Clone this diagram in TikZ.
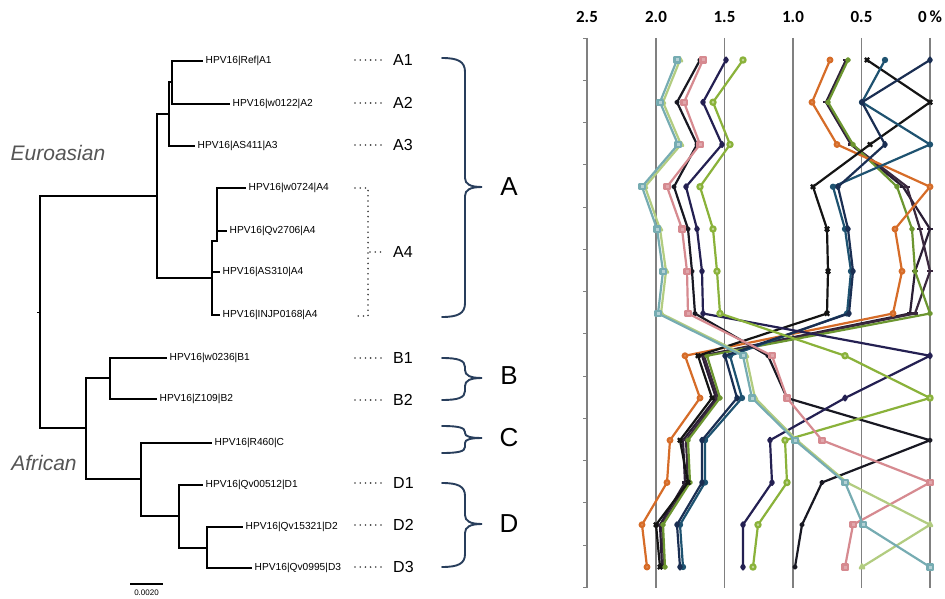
\documentclass[tikz,border=0pt]{standalone}
\usepackage{fontspec}
\setmainfont{Liberation Sans}
\newfontfamily\chartfont{Carlito}
\usetikzlibrary{plotmarks}

% colours of the tree braces and the distance series
\definecolor{bracecol}{RGB}{40,62,92}
\definecolor{gridcol}{RGB}{128,128,128}
\definecolor{cladegray}{RGB}{85,85,85}
\definecolor{cD3}{RGB}{118,172,178}
\definecolor{cD2}{RGB}{178,204,128}
\definecolor{cD1}{RGB}{214,138,144}
\definecolor{cB1}{RGB}{36,32,82}
\definecolor{cB2}{RGB}{138,178,58}
\definecolor{cC}{RGB}{24,24,34}
\definecolor{cA1}{RGB}{26,46,82}
\definecolor{cA2}{RGB}{20,20,20}
\definecolor{cA3}{RGB}{30,82,112}
\definecolor{cA4a}{RGB}{214,108,40}
\definecolor{cA4b}{RGB}{42,30,52}
\definecolor{cA4c}{RGB}{58,40,62}
\definecolor{cA4d}{RGB}{108,150,48}

% right brace: top y, tip y, bottom y, end radius, tip radius
\newcommand\clbrace[5]{%
  \draw[brace] (442,#1) .. controls (458,#1) and (465,#1+#4/4) .. (465,#1+#4)
    -- (465,#2-#5) .. controls (465,#2-#5/3) and (470,#2) .. (482,#2)
    .. controls (470,#2) and (465,#2+#5/3) .. (465,#2+#5)
    -- (465,#3-#4) .. controls (465,#3-#4/4) and (458,#3) .. (442,#3);}

\begin{document}
\begin{tikzpicture}[x=1pt,y=-1pt,
  tree/.style={line width=1.5pt,line join=miter,black},
  tip/.style={anchor=west,inner sep=2.5pt,font=\fontsize{10.2}{12}\selectfont},
  clade/.style={font=\fontsize{21}{24}\selectfont\itshape,text=cladegray},
  leader/.style={line width=1.8pt,dash pattern=on 0pt off 5.2pt,line cap=round,color=black!75},
  grp/.style={anchor=west,inner sep=0pt,font=\fontsize{16}{18}\selectfont},
  big/.style={inner sep=0pt,font=\fontsize{26}{29}\selectfont},
  brace/.style={line width=1.9pt,color=bracecol,line cap=round},
  grid/.style={line width=1.1pt,color=gridcol},
  axlab/.style={font=\chartfont\bfseries\fontsize{17}{19}\selectfont},
  ser/.style={line width=2.2pt,line join=round,mark size=2.3pt},
]
\useasboundingbox[fill=white] (0,0) rectangle (945,599);

% ---------------- phylogenetic tree ----------------
\coordinate (R) at (40,312);
\coordinate (EA) at (157,196);
\coordinate (AF) at (86,428);
\coordinate (Atop) at (169,114);
\coordinate (A12) at (172,82);
\coordinate (A4n) at (212,278);
\coordinate (A4j) at (212,241);
\coordinate (A4s) at (217,241);
\coordinate (Bn) at (110,378);
\coordinate (CDn) at (141,479);
\coordinate (Dn) at (179,516);
\coordinate (D23) at (207,548);

\node[tip] (lA1) at (203,61) {HPV16|Ref|A1};
\node[tip] (lA2) at (230,104) {HPV16|w0122|A2};
\node[tip] (lA3) at (195,146) {HPV16|AS411|A3};
\node[tip] (lA4a) at (246,188) {HPV16|w0724|A4};
\node[tip] (lA4b) at (227,231) {HPV16|Qv2706|A4};
\node[tip] (lA4c) at (220,272) {HPV16|AS310|A4};
\node[tip] (lA4d) at (220,315) {HPV16|INJP0168|A4};
\node[tip] (lB1) at (167,358) {HPV16|w0236|B1};
\node[tip] (lB2) at (157,399) {HPV16|Z109|B2};
\node[tip] (lC) at (212,443) {HPV16|R460|C};
\node[tip] (lD1) at (203,485) {HPV16|Qv00512|D1};
\node[tip] (lD2) at (243,527) {HPV16|Qv15321|D2};
\node[tip] (lD3) at (252,568) {HPV16|Qv0995|D3};

\draw[tree] (R) |- (EA);
\draw[tree] (R) |- (AF);
\draw[line width=1pt] (R) -- ++(-3,0);
\draw[tree] (EA) |- (Atop);
\draw[tree] (EA) |- (A4n);
\draw[tree] (Atop) |- (A12);
\draw[tree] (Atop) |- (lA3.west);
\draw[tree] (A12) |- (lA1.west);
\draw[tree] (A12) |- (lA2.west);
\draw[tree] (A4n) -- (A4j) -- (A4s) |- (lA4a.west);
\draw[tree] (A4s) |- (lA4b.west);
\draw[tree] (A4n) |- (lA4c.west);
\draw[tree] (A4n) |- (lA4d.west);
\draw[tree] (AF) |- (Bn);
\draw[tree] (AF) |- (CDn);
\draw[tree] (Bn) |- (lB1.west);
\draw[tree] (Bn) |- (lB2.west);
\draw[tree] (CDn) |- (lC.west);
\draw[tree] (CDn) |- (Dn);
\draw[tree] (Dn) |- (lD1.west);
\draw[tree] (Dn) |- (D23);
\draw[tree] (D23) |- (lD2.west);
\draw[tree] (D23) |- (lD3.west);

% scale bar
\coordinate (sb1) at (130,584);
\coordinate (sb2) at (163,584);
\draw[line width=1.2pt] (sb1) -- (sb2);
\node[font=\fontsize{8}{9}\selectfont,inner sep=0pt] (sbl) at (146.5,593) {0.0020};

\node[clade] (euro) at (58,153) {Euroasian};
\node[clade] (afr) at (44,463) {African};

% ---------------- subtype labels ----------------
\foreach \nm/\yy in {A1/60,A2/103,A3/145,B1/358,B2/400,D1/483,D2/525,D3/567}{
  \coordinate (d\nm) at (355,\yy);
  \node[grp] (g\nm) at (393,\yy) {\nm};
  \draw[leader,shorten >=9pt] (d\nm) -- (g\nm.west);
}
\coordinate (bkt1) at (355,188);
\coordinate (bkt2) at (368,188);
\coordinate (bkt3) at (368,316);
\coordinate (bkt4) at (355,316);
\coordinate (bktm) at (370,252);
\node[grp] (gA4) at (393,252) {A4};
\draw[leader] (bkt1) -- (bkt2) -- (bkt3) -- (bkt4);
\draw[leader,shorten >=9pt] (bktm) -- (gA4.west);

\clbrace{58}{187}{317}{14}{9}
\clbrace{358}{378}{400}{9}{8}
\clbrace{426}{438}{453}{6}{5}
\clbrace{483}{524}{567}{13}{9}
\node[big] (gA) at (509,187) {A};
\node[big] (gB) at (509,376) {B};
\node[big] (gC) at (509,438) {C};
\node[big] (gD) at (509,524) {D};

% ---------------- distance chart ----------------
\foreach \gx in {656,724.5,793,861.5,930}
  \draw[grid] (\gx,38) -- (\gx,588);
\draw[grid] (587,38) -- (587,588);
\foreach \k in {0,...,13}
  \draw[line width=0.9pt,gridcol] (583,38+42.25*\k) -- (587,38+42.25*\k);

\node[axlab] (t25) at (587,17) {2.5};
\node[axlab] (t20) at (656,17) {2.0};
\node[axlab] (t15) at (724.5,17) {1.5};
\node[axlab] (t10) at (793,17) {1.0};
\node[axlab] (t05) at (861.5,17) {0.5};
\node[axlab] (t00) at (930,17) {0\,\%};

% Euroasian reference series
\draw[ser,cA4b,mark=-,mark size=3pt] plot coordinates {(846,60) (826,102.25) (851,144.5) (903,186.75) (930,229) (915,271.25) (910,313.5) (702,355.75) (716,398) (683,440.25) (685,482.5) (660,524.75) (662,567)};
\draw[ser,cA4c,mark=-,mark size=3pt] plot coordinates {(847,60) (827,102.25) (852,144.5) (907,186.75) (920,229) (930,271.25) (915,313.5) (704,355.75) (718,398) (686,440.25) (688,482.5) (662,524.75) (664,567)};
\draw[ser,cA4d,mark=*,mark size=1.8pt] plot coordinates {(848,60) (828,102.25) (853,144.5) (897,186.75) (912,229) (915,271.25) (930,313.5) (707,355.75) (720,398) (688,440.25) (690,482.5) (663,524.75) (665,567)};
\draw[ser,cA4a,mark=*,mark options={fill=cA4a!80!white}] plot coordinates {(830,60) (812,102.25) (837,144.5) (930,186.75) (895,229) (902,271.25) (893,313.5) (685,355.75) (700,398) (670,440.25) (667,482.5) (642,524.75) (647,567)};
\draw[ser,cA2,mark=x,mark size=3pt] plot coordinates {(867,60) (930,102.25) (870,144.5) (813,186.75) (827,229) (828,271.25) (827,313.5) (698,355.75) (712,398) (680,440.25) (688,482.5) (656,524.75) (660,567)};
\draw[ser,cA3,mark=*,mark size=2pt] plot coordinates {(885,60) (862,102.25) (930,144.5) (833,186.75) (845,229) (851,271.25) (847,313.5) (730,355.75) (742,398) (705,440.25) (705,482.5) (680,524.75) (683,567)};
\draw[ser,cA1,mark=diamond*,mark size=2.4pt] plot coordinates {(930,60) (862,102.25) (885,144.5) (838,186.75) (848,229) (853,271.25) (849,313.5) (725,355.75) (737,398) (702,440.25) (702,482.5) (677,524.75) (680,567)};

% African reference series
\draw[ser,cC,mark=*,mark size=1.5pt] plot coordinates {(700,60) (677,102.25) (697,144.5) (674,186.75) (688,229) (692,271.25) (695,313.5) (768,355.75) (787,398) (930,440.25) (822,482.5) (802,524.75) (795,567)};
\draw[ser,cB1,mark=diamond*,mark size=2.4pt] plot coordinates {(726,60) (703,102.25) (722,144.5) (686,186.75) (697,229) (702,271.25) (703,313.5) (930,355.75) (845,398) (770,440.25) (772,482.5) (743,524.75) (743,567)};
\draw[ser,cB2,mark=*,mark size=2.6pt,mark options={fill=cB2!55!white}] plot coordinates {(743,60) (713,102.25) (730,144.5) (700,186.75) (713,229) (717,271.25) (720,313.5) (845,355.75) (930,398) (785,440.25) (787,482.5) (758,524.75) (753,567)};
\draw[ser,cD1,mark=square*,mark size=2.6pt,mark options={fill=cD1!75!white}] plot coordinates {(703,60) (684,102.25) (700,144.5) (667,186.75) (682,229) (687,271.25) (688,313.5) (772,355.75) (787,398) (822,440.25) (930,482.5) (853,524.75) (845,567)};
\draw[ser,cD2,mark=triangle*,mark size=2.6pt,mark options={fill=cD2!60!white}] plot coordinates {(680,60) (663,102.25) (681,144.5) (645,186.75) (660,229) (666,271.25) (661,313.5) (746,355.75) (755,398) (797,440.25) (847,482.5) (930,524.75) (862,567)};
\draw[ser,cD3,mark=square*,mark size=2.6pt,mark options={fill=cD3!55!white}] plot coordinates {(677,60) (660,102.25) (678,144.5) (642,186.75) (657,229) (663,271.25) (658,313.5) (743,355.75) (752,398) (795,440.25) (845,482.5) (863,524.75) (930,567)};
\end{tikzpicture}
\end{document}
